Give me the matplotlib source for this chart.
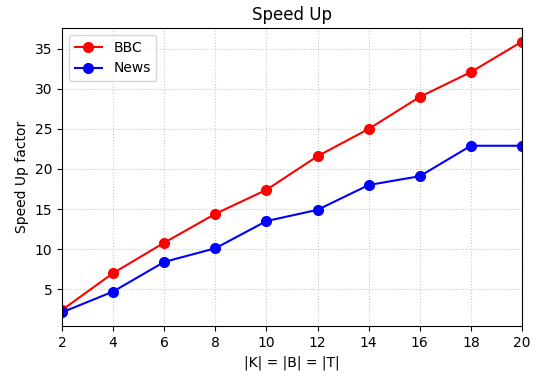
import matplotlib
matplotlib.use("Agg")
import matplotlib.pyplot as plt

# speed up factor vs |K| = |B| = |T|
sizes = [2, 4, 6, 8, 10, 12, 14, 16, 18, 20]
bbc = [2.4, 7.0, 10.8, 14.4, 17.4, 21.6, 25.0, 29.0, 32.1, 35.9]
news = [2.1, 4.7, 8.4, 10.1, 13.5, 14.9, 18.0, 19.1, 22.9, 22.9]

W, H = 537, 377
fig = plt.figure(figsize=(W / 100, H / 100), dpi=100)
ax = fig.add_axes([62 / W, 1 - 326 / H, (522 - 62) / W, (326 - 28) / H])

ax.plot(sizes, bbc, color="red", marker="o", markersize=7, linewidth=1.5, label="BBC")
ax.plot(sizes, news, color="blue", marker="o", markersize=7, linewidth=1.5, label="News")

ax.set_xlim(2, 20)
ax.set_xticks(sizes)
ax.set_ylim(0.4, 37.6)
ax.set_yticks([5, 10, 15, 20, 25, 30, 35])
ax.grid(True, linestyle=":", color="#c8c8c8", linewidth=0.8)
ax.set_axisbelow(True)

ax.set_title("Speed Up", fontsize=12)
ax.set_xlabel("|K| = |B| = |T|", fontsize=10)
ax.set_ylabel("Speed Up factor", fontsize=10)
ax.legend(loc="upper left", fontsize=10)

fig.savefig("out.png", dpi=100)
